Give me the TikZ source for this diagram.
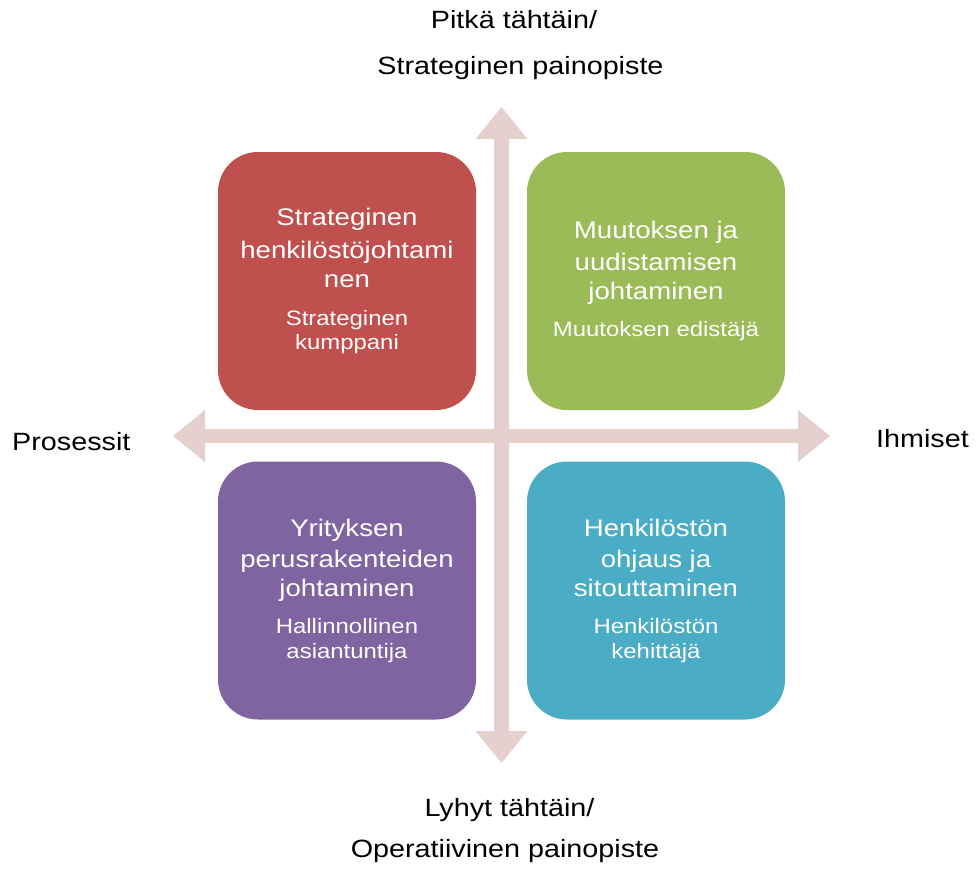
\documentclass[tikz,border=0pt]{standalone}
\usepackage{fontspec}
\setmainfont[FakeStretch=1.15]{Liberation Sans}
\setlength{\parindent}{0pt}
\definecolor{axispink}{RGB}{230,207,207}
\definecolor{quadred}{RGB}{192,80,77}
\definecolor{quadgreen}{RGB}{155,187,89}
\definecolor{quadpurple}{RGB}{128,100,162}
\definecolor{quadblue}{RGB}{75,172,198}
% fixed interword spaces taken from the font in force
\newcommand\ttl{\fontsize{24}{29}\selectfont\spaceskip=\fontdimen2\font\relax}
\newcommand\sbt{\fontsize{20.8}{24.5}\selectfont\spaceskip=\fontdimen2\font\relax}
\begin{document}
\begin{tikzpicture}[x=1pt,y=-1pt,
  quad/.style={rounded corners=40pt, minimum width=258pt, minimum height=258pt,
    inner sep=0pt, text width=250pt, align=center, text=white},
  axislabel/.style={font=\fontsize{25}{30}\selectfont, anchor=base, inner sep=0pt}]
\useasboundingbox (0,0) rectangle (976,870);

% the two axes, drawn as flat double-headed block arrows
\fill[axispink] (501.5,107) -- (527.5,139) -- (509,139) -- (509,731) -- (527.5,731)
  -- (501.5,763) -- (475.5,731) -- (494,731) -- (494,139) -- (475.5,139) -- cycle;
\fill[axispink] (173,436) -- (205,410) -- (205,429) -- (798,429) -- (798,410)
  -- (830,436) -- (798,462) -- (798,443) -- (205,443) -- (205,462) -- cycle;

% quadrants (a small top skip nudges each text block slightly down)
\node[quad, fill=quadred] (strat) at (347,281)
  {\vspace*{4pt}{\ttl Strateginen\\henkilöstöjohtami\\nen\par}\vspace{13pt}{\sbt Strateginen\\kumppani\par}};
\node[quad, fill=quadgreen] (change) at (656,281)
  {\vspace*{3pt}{\ttl Muutoksen ja\\uudistamisen\\johtaminen\par}\vspace{13pt}{\sbt Muutoksen edistäjä\par}};
\node[quad, fill=quadpurple] (infra) at (347,590.5)
  {\vspace*{2pt}{\ttl Yrityksen\\perusrakenteiden\\johtaminen\par}\vspace{13pt}{\sbt Hallinnollinen\\asiantuntija\par}};
\node[quad, fill=quadblue] (staff) at (656,590.5)
  {\vspace*{2pt}{\ttl Henkilöstön\\ohjaus ja\\sitouttaminen\par}\vspace{13pt}{\sbt Henkilöstön\\kehittäjä\par}};

% axis labels
\node[axislabel] (topA) at (514,28.3) {Pitkä tähtäin/};
\node[axislabel] (topB) at (520.5,74) {Strateginen painopiste};
\node[axislabel] (botA) at (509.5,816.7) {Lyhyt tähtäin/};
\node[axislabel] (botB) at (505,857) {Operatiivinen painopiste};
\node[axislabel] (left) at (71.3,450) {Prosessit};
\node[axislabel] (right) at (922.5,447.3) {Ihmiset};
\end{tikzpicture}
\end{document}
